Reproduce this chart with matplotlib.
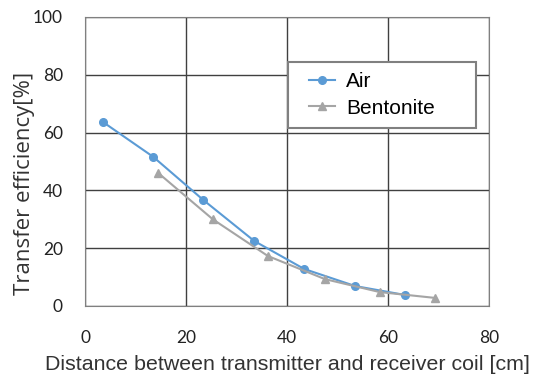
import matplotlib
matplotlib.use("Agg")
import matplotlib.pyplot as plt
from matplotlib.legend_handler import HandlerLine2D

plt.rcParams['font.family'] = ['Liberation Sans', 'DejaVu Sans']

# data
air_x = [3.5, 13.5, 23.4, 33.5, 43.4, 53.5, 63.4]
air_y = [63.7, 51.6, 36.7, 22.5, 12.8, 6.9, 3.8]
bent_x = [14.5, 25.3, 36.2, 47.5, 58.4, 69.3]
bent_y = [46.0, 30.0, 17.3, 9.3, 4.8, 2.8]

fig = plt.figure(figsize=(5.38, 3.75), dpi=100)
ax = fig.add_axes([0.158, 0.184, 0.751, 0.771])

l_air, = ax.plot(air_x, air_y, color='#5b9bd5', marker='o', markersize=5.5, lw=1.5, label='Air', zorder=3)
l_bent, = ax.plot(bent_x, bent_y, color='#a5a5a5', marker='^', markersize=5.5, lw=1.5, label='Bentonite', zorder=3)

ax.set_xlim(0, 80)
ax.set_ylim(0, 100)
ax.set_xticks([0, 20, 40, 60, 80])
ax.set_yticks([0, 20, 40, 60, 80, 100])
ax.grid(True, color='#404040', lw=1.0)
for s in ax.spines.values():
    s.set_color('#808080')
ax.tick_params(length=0, labelsize=12.5, colors='#222222')
ax.tick_params(axis='x', pad=17)
ax.tick_params(axis='y', pad=16)
for lab in ax.get_xticklabels() + ax.get_yticklabels():
    lab.set_family(['Lato', 'DejaVu Sans'])

ax.set_xlabel('Distance between transmitter and receiver coil [cm]', fontsize=15.4,
              color='#333333', labelpad=7)
ax.set_ylabel('Transfer efficiency[%]', fontsize=16, color='#333333',
              family=['Open Sans', 'DejaVu Sans'])
# the original label sits lower than the middle of the axis
ax.yaxis.set_label_coords(-0.123, 0.425)

# legend with fixed width, handles indented a bit like the original
hmap = {l_air: HandlerLine2D(xpad=0.53), l_bent: HandlerLine2D(xpad=0.53)}
leg = ax.legend(handler_map=hmap, loc='upper left',
                bbox_to_anchor=(0.502, 0.5, 0.465, 0.344), mode='expand', fontsize=15,
                fancybox=False, framealpha=1, edgecolor='#808080',
                handlelength=1.78, handletextpad=0.51, borderpad=0.5, labelspacing=0.35,
                borderaxespad=0)
leg.get_frame().set_linewidth(1.5)

fig.savefig('out.png', dpi=100)
